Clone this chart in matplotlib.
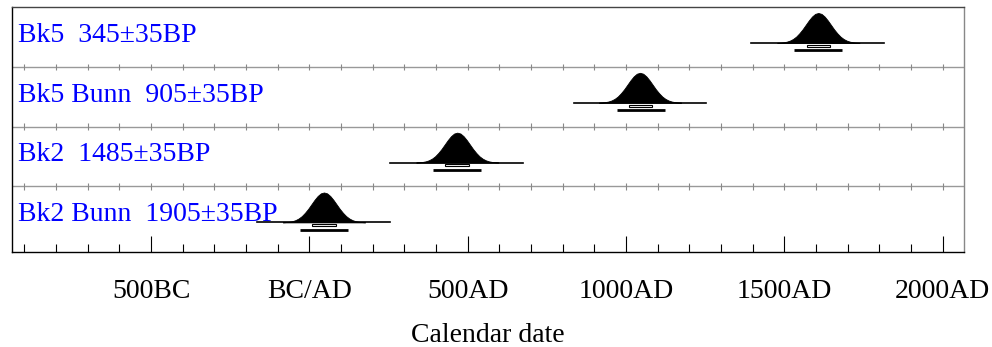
import matplotlib
matplotlib.use("Agg")
import matplotlib.pyplot as plt
from matplotlib.patches import Rectangle

plt.rcParams["font.family"] = ["Liberation Serif", "DejaVu Serif"]

# samples, top to bottom
names = ["Bk5", "Bk5 Bunn", "Bk2", "Bk2 Bunn"]
bp_ages = [345, 905, 1485, 1905]
bp_errors = [35, 35, 35, 35]

# calibrated distributions (calendar years, AD positive)
peak_years = [1607, 1044, 467, 46]
base_from = [1395, 836, 255, -164]
base_to = [1815, 1253, 674, 253]
range68_from = [1572, 1010, 429, 9]
range68_to = [1644, 1082, 503, 83]
range95_from = [1531, 972, 390, -29]
range95_to = [1682, 1123, 542, 121]

# shape of each probability curve: relative height vs years from the peak
profile_offsets = [-130, -120, -110, -100, -90, -80, -70, -60, -50, -40, -30, -20, -10, 0,
                   10, 20, 30, 40, 50, 60, 70, 80, 90, 100, 110, 120, 130]
profile_heights = [0.004, 0.01, 0.02, 0.04, 0.075, 0.13, 0.21, 0.32, 0.45, 0.60, 0.75, 0.88, 0.97, 1.0,
                   0.97, 0.88, 0.75, 0.60, 0.45, 0.32, 0.21, 0.13, 0.075, 0.04, 0.02, 0.01, 0.004]

major_years = [-500, 0, 500, 1000, 1500, 2000]
major_labels = ["500BC", "BC/AD", "500AD", "1000AD", "1500AD", "2000AD"]
minor_years = list(range(-900, 2001, 100))

W, H = 992, 347
fig = plt.figure(figsize=(W / 100, H / 100), dpi=100)
left, right, top, bottom = 11.7, 964, 7, 252.3
ax = fig.add_axes([left / W, 1 - bottom / H, (right - left) / W, (bottom - top) / H])
ax.set_xlim(-940, 2067)
ax.set_ylim(-0.10, 4)

n = len(names)
curve_h = 0.50
for i in range(n):
    row_top = n - i
    base = row_top - 0.6

    xs = [peak_years[i] + o for o in profile_offsets]
    ys = [base + curve_h * h for h in profile_heights]
    ax.fill_between(xs, base, ys, color="black", lw=0.6, zorder=3)
    ax.plot([base_from[i], base_to[i]], [base, base], color="black", lw=1.2, zorder=3)

    ax.add_patch(Rectangle((range68_from[i], base - 0.064), range68_to[i] - range68_from[i], 0.032,
                           facecolor="white", edgecolor="black", lw=0.8, zorder=3))
    ax.plot([range95_from[i], range95_to[i]], [base - 0.12, base - 0.12], color="black", lw=2.0,
            solid_capstyle="butt", zorder=3)

    ax.text(-920, row_top - 0.58, f"{names[i]}  {bp_ages[i]}\u00b1{bp_errors[i]}BP",
            color="#0000ff", fontsize=20, va="baseline", ha="left", zorder=4)

    # separator line with its little cross ticks
    if i > 0:
        ax.axhline(row_top, color="#999999", lw=1.0, zorder=1)
        ax.vlines(minor_years, row_top - 0.055, row_top + 0.055, color="#888888", lw=0.8, zorder=1)

ax.set_xticks(major_years)
ax.set_xticklabels(major_labels)
ax.set_xticks(minor_years, minor=True)
ax.set_yticks([])
ax.tick_params(axis="x", which="major", direction="in", length=11.5, width=0.8, pad=19,
               labelsize=20, colors="black")
ax.tick_params(axis="x", which="minor", direction="in", length=5.8, width=0.8)

ax.spines["left"].set_color("black")
ax.spines["bottom"].set_color("black")
ax.spines["top"].set_color("#444444")
ax.spines["right"].set_color("#888888")
for s in ax.spines.values():
    s.set_linewidth(1.0)

fig.text(488 / W, 1 - 342 / H, "Calendar date", fontsize=20, ha="center", va="baseline")

fig.savefig("out.png", dpi=100)
